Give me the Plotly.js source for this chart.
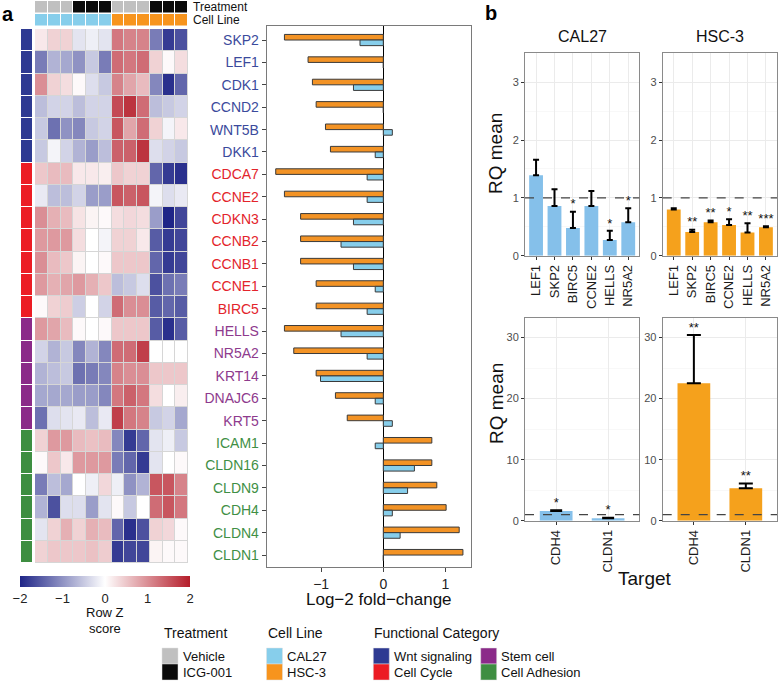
<!DOCTYPE html>
<html>
<head>
<meta charset="utf-8">
<script src="https://cdn.plot.ly/plotly-3.0.1.min.js"></script>
<style>html,body{margin:0;padding:0;background:#fff;}#chart{width:778px;height:684px;}</style>
</head>
<body>
<div id="chart"></div>
<script>
// ---------------- DATA ----------------
const genes = ['SKP2','LEF1','CDK1','CCND2','WNT5B','DKK1','CDCA7','CCNE2','CDKN3','CCNB2','CCNB1','CCNE1','BIRC5','HELLS','NR5A2','KRT14','DNAJC6','KRT5','ICAM1','CLDN16','CLDN9','CDH4','CLDN4','CLDN1'];
const geneCategory = ['Wnt signaling','Wnt signaling','Wnt signaling','Wnt signaling','Wnt signaling','Wnt signaling',
  'Cell Cycle','Cell Cycle','Cell Cycle','Cell Cycle','Cell Cycle','Cell Cycle','Cell Cycle',
  'Stem cell','Stem cell','Stem cell','Stem cell','Stem cell',
  'Cell Adhesion','Cell Adhesion','Cell Adhesion','Cell Adhesion','Cell Adhesion','Cell Adhesion'];
const categoryLevels = ['Wnt signaling','Cell Cycle','Stem cell','Cell Adhesion'];
const sampleTreatment = ['Vehicle','Vehicle','Vehicle','ICG-001','ICG-001','ICG-001','Vehicle','Vehicle','Vehicle','ICG-001','ICG-001','ICG-001'];
const sampleCellLine = ['CAL27','CAL27','CAL27','CAL27','CAL27','CAL27','HSC-3','HSC-3','HSC-3','HSC-3','HSC-3','HSC-3'];
const treatmentLevels = ['Vehicle','ICG-001'];
const cellLineLevels = ['CAL27','HSC-3'];

const zScores = [
  [0.2,0.4,0.4,-0.25,-0.15,-0.25,1.2,1.1,1.1,-1.2,-1.8,-1.6],
  [-1.2,-0.7,-0.8,-1.0,-0.5,-1.2,1.3,1.2,1.3,0.4,0.05,0.3],
  [1.0,0.4,0.3,0.05,-0.3,-0.5,1.1,0.8,0.6,-1.1,-1.9,-1.4],
  [-0.6,-0.4,-0.4,-0.6,-0.4,-0.4,1.6,1.8,1.3,-0.6,-0.5,-0.4],
  [-0.5,-1.3,-1.0,-1.1,-0.5,-0.4,1.5,0.8,1.3,0.4,-0.1,0.2],
  [-0.5,-0.1,-0.4,-0.7,-0.9,-0.6,1.4,1.4,1.8,-0.3,-0.4,-0.5],
  [0.5,0.6,0.6,0.2,0.2,0.15,0.5,0.4,0.4,-1.4,-1.8,-1.9],
  [-0.2,-0.6,-0.6,-0.4,-0.9,-0.9,1.5,1.4,1.5,-0.1,-0.3,-0.2],
  [1.0,0.7,0.6,0.25,0.1,0.05,0.3,0.35,0.3,-0.9,-2.0,-1.7],
  [0.9,0.9,0.9,0.3,0.0,-0.1,0.4,0.4,0.2,-1.5,-1.8,-1.7],
  [1.0,0.6,0.5,0.1,0.0,0.05,0.5,0.5,0.5,-1.4,-1.8,-1.7],
  [0.9,0.7,0.8,0.9,0.7,0.5,-0.6,-0.5,-0.3,-1.6,-1.3,-1.2],
  [0.05,0.4,0.45,-0.45,0.0,-0.4,1.3,1.0,1.0,-1.5,-1.4,-1.5],
  [0.9,0.8,0.6,0.05,0.0,0.05,0.5,0.5,0.5,-1.5,-1.9,-1.5],
  [-0.4,-0.7,-0.5,-1.1,-0.7,-1.1,1.3,1.3,1.7,0.0,0.0,0.0],
  [-0.7,-0.6,-0.5,-1.3,-1.2,-1.1,1.1,1.0,1.0,0.5,0.5,0.5],
  [-0.8,-0.8,-0.8,-0.9,-0.9,-1.1,1.2,1.4,1.2,0.3,0.0,0.15],
  [-1.3,-0.3,-0.25,-0.2,-0.6,-0.2,1.7,1.2,1.1,-0.5,-0.4,-0.8],
  [0.4,0.9,0.9,0.6,0.55,0.6,-1.1,-1.8,-1.4,-0.25,-0.15,-0.5],
  [0.05,0.5,0.2,0.9,0.9,0.9,-1.2,-1.4,-1.8,-0.25,0.0,0.05],
  [-1.2,-0.6,-0.8,0.0,-0.15,0.35,-0.15,-1.0,-0.7,1.5,1.5,1.1],
  [-0.7,-1.6,-0.3,-0.3,-0.9,-0.25,0.05,-0.5,0.0,1.3,1.5,1.2],
  [-0.25,0.4,0.7,0.4,0.7,0.6,-1.4,-1.9,-1.6,0.4,0.35,0.05],
  [0.4,0.5,0.5,0.5,0.55,0.45,-1.8,-1.7,-1.7,0.1,0.05,0.05]
];

const hsc3LogFC = [-1.59,-1.21,-1.14,-1.08,-0.93,-0.85,-1.73,-1.59,-1.33,-1.33,-1.33,-1.08,-1.08,-1.59,-1.44,-1.08,-0.77,-0.58,0.78,0.78,0.86,1.01,1.22,1.28];
const cal27LogFC = [-0.375,0,-0.48,0,0.145,-0.13,-0.26,-0.26,-0.48,-0.68,-0.48,-0.13,-0.26,-0.68,-0.26,-1.01,-0.13,0.145,-0.13,0.5,0.39,0.145,0.27,0];

const qpcrGenes = ['LEF1','SKP2','BIRC5','CCNE2','HELLS','NR5A2'];
const cal27RQ = [1.39,0.86,0.48,0.86,0.27,0.58];
const cal27Upper = [1.66,1.15,0.76,1.12,0.43,0.82];
const cal27Sig = ['','','*','','*','*'];
const hsc3RQ = [0.80,0.41,0.58,0.53,0.40,0.49];
const hsc3Upper = [0.82,0.45,0.61,0.63,0.56,0.51];
const hsc3Sig = ['','**','**','*','**','***'];

const adhesionGenes = ['CDH4','CLDN1'];
const cal27AdhRQ = [1.6,0.4];
const cal27AdhUpper = [1.7,0.5];
const cal27AdhSig = ['*','*'];
const hsc3AdhRQ = [22.5,5.3];
const hsc3AdhUpper = [30.4,6.1];
const hsc3AdhSig = ['**','**'];

// ---------------- STYLE ----------------
const W = 778, H = 684;
const fx = p => p / W;
const fy = p => 1 - p / H;
const FONT = 'Liberation Sans, Arial, sans-serif';
const catStripColors = {'Wnt signaling':'#2e3a92','Cell Cycle':'#ec1c24','Stem cell':'#8b2a89','Cell Adhesion':'#3e8e41'};
const catTextColors = {'Wnt signaling':'#3b4a9c','Cell Cycle':'#e3242b','Stem cell':'#8e3a8d','Cell Adhesion':'#3f8f45'};
const treatColors = {'Vehicle':'#c0c0c0','ICG-001':'#0a0a0a'};
const cellColors = {'CAL27':'#87ceeb','HSC-3':'#f7941d'};
const barBlue = '#85c0ea', barOrange = '#f5a11c';

const cols = sampleTreatment.map((_, i) => i);

const traces = [];
// main heatmap
traces.push({
  type:'heatmap', x: cols, y: genes, z: zScores, xaxis:'x', yaxis:'y',
  zmin:-2, zmax:2, xgap:1, ygap:1,
  colorscale:[[0,'#1f2587'],[0.5,'#ffffff'],[1,'#b51d2a']],
  hoverinfo:'skip',
  colorbar:{orientation:'h', x:fx(105), xanchor:'center', y:fy(576), yanchor:'top',
    len:170/W, lenmode:'fraction', thickness:11, thicknessmode:'pixels',
    tickvals:[-2,-1,0,1,2], tickfont:{size:13, color:'#222', family:FONT},
    outlinewidth:0, ticks:'', xpad:0, ypad:0}
});
// treatment strip
traces.push({
  type:'heatmap', x: cols, y:['Treatment'], z:[sampleTreatment.map(t => treatmentLevels.indexOf(t))],
  xaxis:'x', yaxis:'y2', zmin:0, zmax:1, xgap:1, showscale:false, hoverinfo:'skip',
  colorscale:[[0,treatColors['Vehicle']],[0.5,treatColors['Vehicle']],[0.5,treatColors['ICG-001']],[1,treatColors['ICG-001']]]
});
// cell line strip
traces.push({
  type:'heatmap', x: cols, y:['Cell Line'], z:[sampleCellLine.map(t => cellLineLevels.indexOf(t))],
  xaxis:'x', yaxis:'y3', zmin:0, zmax:1, xgap:1, showscale:false, hoverinfo:'skip',
  colorscale:[[0,cellColors['CAL27']],[0.5,cellColors['CAL27']],[0.5,cellColors['HSC-3']],[1,cellColors['HSC-3']]]
});
// category strip
const csc = [];
categoryLevels.forEach((c, i) => { csc.push([i/4, catStripColors[c]]); csc.push([(i+1)/4, catStripColors[c]]); });
traces.push({
  type:'heatmap', x:['cat'], y: genes, z: geneCategory.map(c => [categoryLevels.indexOf(c)]),
  xaxis:'x4', yaxis:'y', zmin:-0.5, zmax:3.5, ygap:1, showscale:false, hoverinfo:'skip',
  colorscale: csc
});
// fold change bars
traces.push({
  type:'bar', orientation:'h', y: genes, x: hsc3LogFC, xaxis:'x5', yaxis:'y5',
  width:0.25, offset:-0.25, marker:{color:'#f39325', line:{color:'#3a3a3a', width:1}}, hoverinfo:'skip'
});
traces.push({
  type:'bar', orientation:'h', y: genes, x: cal27LogFC, xaxis:'x5', yaxis:'y5',
  width:0.25, offset:0, marker:{color:'#87ceeb', line:{color:'#3a3a3a', width:1}}, hoverinfo:'skip'
});

function rqPanel(xa, ya, cats, vals, upper, sig, color, w, capw) {
  traces.push({
    type:'bar', x: cats, y: vals, xaxis: xa, yaxis: ya, width: w,
    marker:{color: color}, hoverinfo:'skip',
    error_y:{type:'data', symmetric:false, array: upper.map((u,i) => u - vals[i]), arrayminus: vals.map(() => 0),
      color:'#000', thickness:2, width: capw}
  });
  traces.push({
    type:'scatter', mode:'text', x: cats, y: upper, text: sig, xaxis: xa, yaxis: ya,
    textposition:'top center', textfont:{size:13, color:'#111', family:FONT}, hoverinfo:'skip'
  });
}
rqPanel('x6','y6', qpcrGenes, cal27RQ, cal27Upper, cal27Sig, barBlue, 0.75, 3);
rqPanel('x7','y7', qpcrGenes, hsc3RQ, hsc3Upper, hsc3Sig, barOrange, 0.75, 3);
rqPanel('x8','y8', adhesionGenes, cal27AdhRQ, cal27AdhUpper, cal27AdhSig, barBlue, 0.63, 6);
rqPanel('x9','y9', adhesionGenes, hsc3AdhRQ, hsc3AdhUpper, hsc3AdhSig, barOrange, 0.63, 7);

// ---------------- LAYOUT ----------------
const hidden = {showticklabels:false, showgrid:false, zeroline:false, ticks:'', showline:false, fixedrange:true};
const rqX = (dom, anchor, n) => ({domain:dom, anchor:anchor, type:'category', range:[-0.6, n - 0.4],
  showline:true, mirror:true, linecolor:'#8a8a8a', linewidth:1, ticks:'outside', ticklen:3, tickcolor:'#333',
  tickangle:-90, tickfont:{size:13, color:'#1a1a1a', family:FONT}, showgrid:true, gridcolor:'#ebebeb', gridwidth:1, zeroline:false});
const rqY = (dom, anchor, rng, dt) => ({domain:dom, anchor:anchor, range:rng, dtick:dt, tick0:0,
  showline:true, mirror:true, linecolor:'#8a8a8a', linewidth:1, ticks:'outside', ticklen:3, tickcolor:'#333',
  tickfont:{size:11, color:'#4d4d4d', family:FONT}, showgrid:true, gridcolor:'#ebebeb', gridwidth:1, zeroline:false,
  minor:{dtick: dt/2, showgrid:true, gridcolor:'#f4f4f4', gridwidth:0.6}});

const layout = {
  width:W, height:H, margin:{l:0,r:0,t:0,b:0}, paper_bgcolor:'#fff', plot_bgcolor:'#fff',
  showlegend:false, barmode:'overlay', font:{family:FONT, color:'#111'},
  xaxis: Object.assign({domain:[fx(35), fx(188)], anchor:'y', range:[-0.5, 11.5]}, hidden),
  yaxis: Object.assign({domain:[fy(563), fy(29)], anchor:'x', type:'category', autorange:'reversed'}, hidden),
  yaxis2: Object.assign({domain:[fy(12.5), fy(1)], anchor:'x'}, hidden),
  yaxis3: Object.assign({domain:[fy(25.5), fy(14)], anchor:'x'}, hidden),
  xaxis4: Object.assign({domain:[fx(21), fx(32)], anchor:'y'}, hidden),
  xaxis5: {domain:[fx(266.7), fx(470.7)], anchor:'y5', range:[-1.875, 1.405], tickvals:[-1,0,1],
    showline:true, mirror:true, linecolor:'#7a7a7a', linewidth:1, ticks:'outside', ticklen:4, tickcolor:'#444',
    tickfont:{size:14, color:'#222', family:FONT}, showgrid:false, zeroline:true, zerolinecolor:'#000', zerolinewidth:1},
  yaxis5: {domain:[fy(566.7), fy(25.7)], anchor:'x5', type:'category', range:[23.52, -0.64],
    tickmode:'array', tickvals: genes,
    ticktext: genes.map((g,i) => '<span style="color:' + catTextColors[geneCategory[i]] + '">' + g + '</span>'),
    showline:true, mirror:true, linecolor:'#7a7a7a', linewidth:1, ticks:'outside', ticklen:4, tickcolor:'#444',
    tickfont:{size:14, family:FONT}, showgrid:false, zeroline:false},
  xaxis6: rqX([fx(525), fx(639.3)], 'y6', qpcrGenes.length),
  yaxis6: rqY([fy(255.7), fy(53.3)], 'x6', [0, 3.5], 1),
  xaxis7: rqX([fx(662.7), fx(777)], 'y7', qpcrGenes.length),
  yaxis7: rqY([fy(255.7), fy(53.3)], 'x7', [0, 3.5], 1),
  xaxis8: rqX([fx(525), fx(639.3)], 'y8', adhesionGenes.length),
  yaxis8: rqY([fy(520.7), fy(318)], 'x8', [0, 33.2], 10),
  xaxis9: rqX([fx(662.7), fx(777)], 'y9', adhesionGenes.length),
  yaxis9: rqY([fy(520.7), fy(318)], 'x9', [0, 33.2], 10),
  shapes: [],
  annotations: []
};

// gray cell borders behind heatmap
layout.shapes.push({type:'rect', xref:'x', yref:'y', x0:-0.5, x1:11.5, y0:-0.5, y1:23.5,
  fillcolor:'#d6d6d6', line:{width:0}, layer:'below'});
// dashed reference lines at RQ = 1
['6','7','8','9'].forEach(k => layout.shapes.push({type:'line', xref:'x'+k+' domain', yref:'y'+k,
  x0:0, x1:1, y0:1, y1:1, line:{color:'#444', width:1.2, dash:'dash'}, layer:'above'}));

function ann(text, px, py, opt) {
  layout.annotations.push(Object.assign({text:text, x:fx(px), y:fy(py), xref:'paper', yref:'paper',
    showarrow:false, xanchor:'left', yanchor:'middle', font:{size:14, color:'#111', family:FONT}}, opt || {}));
}
ann('<b>a</b>', 0, 14, {font:{size:20, color:'#000', family:FONT}});
ann('<b>b</b>', 483, 13, {font:{size:20, color:'#000', family:FONT}});
ann('Treatment', 191, 7, {font:{size:12, color:'#111', family:FONT}});
ann('Cell Line', 191, 20, {font:{size:12, color:'#111', family:FONT}});
ann('Row Z', 105, 612, {xanchor:'center', font:{size:13, color:'#111', family:FONT}});
ann('score', 105, 628, {xanchor:'center', font:{size:13, color:'#111', family:FONT}});
ann('Log−2 fold−change', 379, 599, {xanchor:'center', font:{size:17, color:'#111', family:FONT}});
ann('CAL27', 582, 37, {xanchor:'center', font:{size:16, color:'#111', family:FONT}});
ann('HSC-3', 720, 37, {xanchor:'center', font:{size:16, color:'#111', family:FONT}});
ann('RQ mean', 496, 154, {xanchor:'center', textangle:-90, font:{size:19, color:'#111', family:FONT}});
ann('RQ mean', 496, 404, {xanchor:'center', textangle:-90, font:{size:19, color:'#111', family:FONT}});
ann('Target', 645, 578, {xanchor:'center', font:{size:19, color:'#111', family:FONT}});

// legends
function swatch(label, color, x0, y0, tx) {
  layout.shapes.push({type:'rect', xref:'paper', yref:'paper', x0:fx(x0), x1:fx(x0+16), y0:fy(y0+16), y1:fy(y0),
    fillcolor:color, line:{width:0.5, color:'#e0e0e0'}});
  ann(label, tx, y0 + 8, {font:{size:13, color:'#111', family:FONT}});
}
ann('Treatment', 162, 633, {font:{size:14, color:'#111', family:FONT}});
treatmentLevels.forEach((t, i) => swatch(t, treatColors[t], 162, 648 + i*16, 181));
ann('Cell Line', 266, 633, {font:{size:14, color:'#111', family:FONT}});
cellLineLevels.forEach((t, i) => swatch(t, cellColors[t], 266.5, 648 + i*16, 285));
ann('Functional Category', 372, 633, {font:{size:14, color:'#111', family:FONT}});
categoryLevels.forEach((c, i) => {
  const col = Math.floor(i / 2), row = i % 2;
  swatch(c, catStripColors[c], 373.3 + col*107.4, 648 + row*16, 392 + col*107.4);
});

Plotly.newPlot('chart', traces, layout, {staticPlot:true});
</script>
</body>
</html>
